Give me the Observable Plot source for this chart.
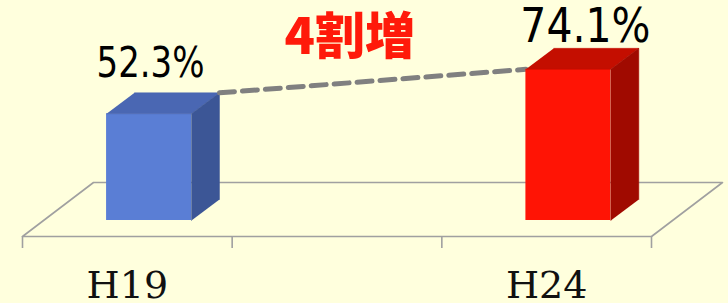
<!DOCTYPE html>
<html>
<head>
<meta charset="utf-8">
<script src="https://cdn.jsdelivr.net/npm/d3@7"></script>
<script src="https://cdn.jsdelivr.net/npm/@observablehq/plot@0.6"></script>
<style>
  html, body { margin: 0; padding: 0; background: #FFFFDD; }
  #chart svg { display: block; }
</style>
</head>
<body>
<div id="chart"></div>
<script>
// ---- data ----
const categories = ["H19", "H24"];
const values = [52.3, 74.1];
const valueLabels = ["52.3%", "74.1%"];
const annotation = "4割増";
const frontColors = ["#5A7ED5", "#FF1405"];
const topColors = ["#4A67B3", "#C40E00"];
const sideColors = ["#3C5696", "#A00A00"];

// ---- layout constants (3 bands, the middle one empty) ----
const nBands = 3;
const slotOf = i => i * 2;
const barW = 0.405;
const barShift = 0.401;
const depX = 0.1335, depY = 10.3;
const floorY = -7.84;
const floorDX = 0.3386, floorDY = 26.47;
const labelStyle = [
  {fontSize: 42, dx: 1.5, dy: -16, len: 108},
  {fontSize: 48, dx: 17, dy: -6, len: 130}
];

const bars = categories.map((c, i) => {
  const x0 = slotOf(i) + barShift, x1 = x0 + barW, v = values[i];
  return {i, c, v, x0, x1};
});

const faces = [];
bars.forEach(b => {
  const {i, v, x0, x1} = b;
  faces.push({id: `top${i}`, fill: topColors[i], pts: [[x0, v], [x1, v], [x1 + depX, v + depY], [x0 + depX, v + depY]]});
  faces.push({id: `side${i}`, fill: sideColors[i], pts: [[x1, 0], [x1, v], [x1 + depX, v + depY], [x1 + depX, depY]]});
});
const facePts = f => f.pts.map(([x, y]) => ({id: f.id, fill: f.fill, x, y}));

const floor = [[0, floorY], [nBands, floorY], [nBands + floorDX, floorY + floorDY], [floorDX, floorY + floorDY], [0, floorY]]
  .map(([x, y]) => ({x, y}));

const dash = [
  {x: bars[0].x1 + depX, y: bars[0].v + depY},
  {x: bars[1].x0, y: bars[1].v}
];
const mid = {x: (dash[0].x + dash[1].x) / 2, y: (dash[0].y + dash[1].y) / 2};

const marks = [
  Plot.line(floor, {x: "x", y: "y", stroke: "#A0A0A0", strokeWidth: 1.6}),
  Plot.axisX({ticks: d3.range(nBands + 1), tickSize: 12, tickFormat: () => "", stroke: "#A0A0A0", strokeWidth: 1.6}),
  Plot.axisX({
    ticks: categories.map((c, i) => slotOf(i) + 0.5),
    tickSize: 0, tickPadding: 35,
    tickFormat: d => categories[Math.round((d - 0.5) / 2)],
    fontSize: 38, fontFamily: "DejaVu Serif", fill: "#111"
  })
];

function barMarks(b) {
  const i = b.i;
  const faceData = faces.filter(f => f.id.endsWith(String(i))).flatMap(facePts);
  return [
    Plot.rectY([b], {x1: "x0", x2: "x1", y1: 0, y2: "v", fill: frontColors[i]}),
    Plot.line(faceData, {x: "x", y: "y", z: "id", fill: "fill", stroke: "fill", strokeWidth: 0.5})
  ];
}

marks.push(...barMarks(bars[0]));
marks.push(Plot.line(dash, {x: "x", y: "y", stroke: "#808080", strokeWidth: 5, strokeDasharray: "15,8"}));
marks.push(...barMarks(bars[1]));

bars.forEach(b => {
  const s = labelStyle[b.i];
  marks.push(Plot.text([b], {
    x: d => (d.x0 + d.x1) / 2,
    y: d => d.v + depY,
    text: d => valueLabels[d.i],
    lineAnchor: "bottom",
    fontFamily: "Liberation Sans Narrow, DejaVu Sans Condensed, sans-serif",
    fontSize: s.fontSize,
    fill: "#000",
    dx: s.dx,
    dy: s.dy
  }));
});
marks.push(Plot.text([mid], {
  x: "x", y: "y", text: () => annotation,
  dx: -23, dy: -43,
  fontFamily: "Noto Sans CJK JP, sans-serif",
  fontWeight: 900,
  fontSize: 50,
  fill: "#FF1A0A"
}));

const chart = Plot.plot({
  width: 728, height: 303,
  marginTop: 0, marginRight: 0, marginLeft: 0, marginBottom: 67,
  style: {background: "#FFFFDD"},
  x: {type: "linear", domain: [0, nBands], range: [22, 651], axis: null},
  y: {domain: [0, 100], range: [220, 16], axis: null},
  color: {type: "identity"},
  marks
});
// compress the value labels horizontally to mimic the narrow font
d3.select(chart).selectAll("text").each(function () {
  const k = valueLabels.indexOf(this.textContent);
  if (k >= 0) {
    this.setAttribute("textLength", labelStyle[k].len);
    this.setAttribute("lengthAdjust", "spacingAndGlyphs");
  }
});
document.getElementById("chart").appendChild(chart);
</script>
</body>
</html>
